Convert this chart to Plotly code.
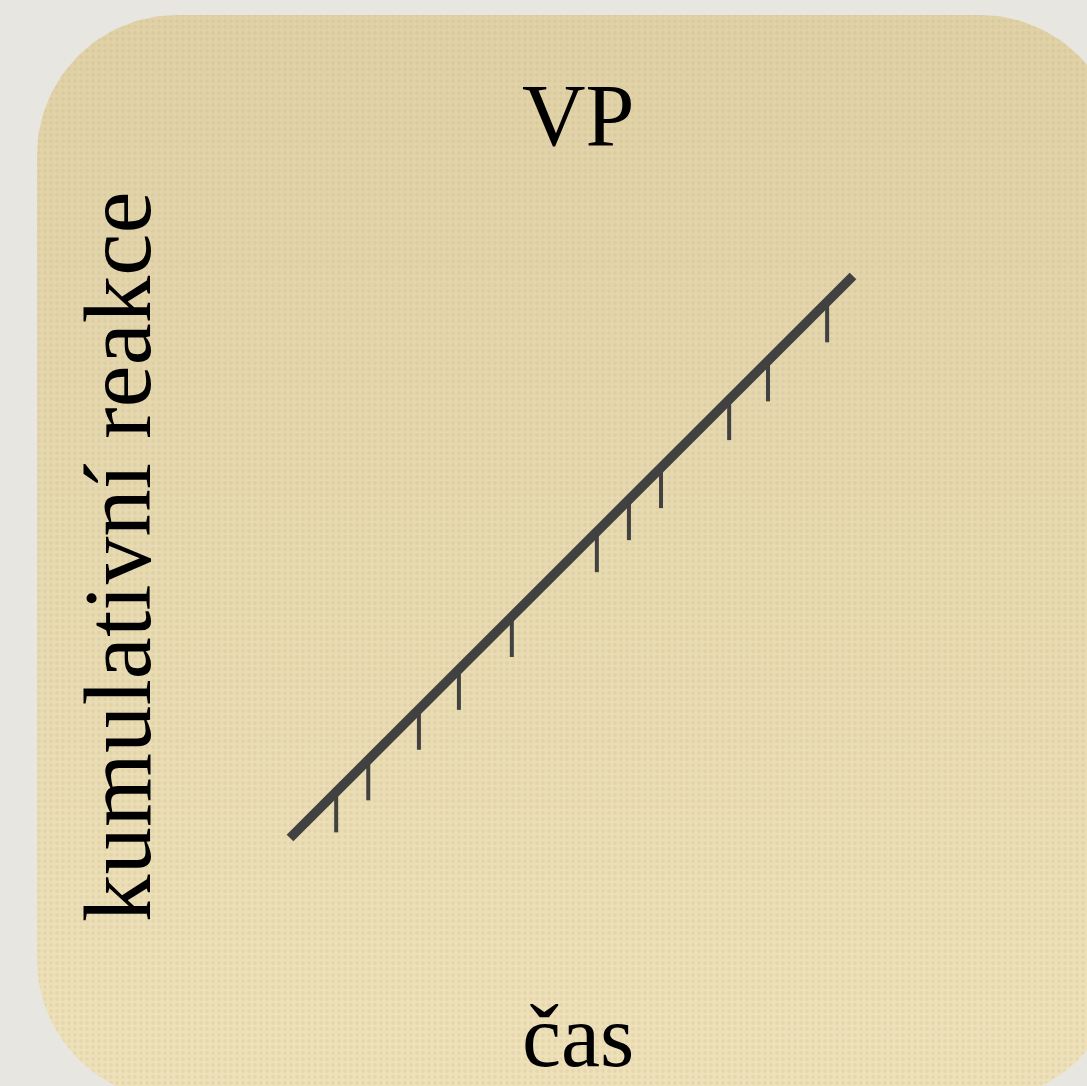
import numpy as np
import plotly.graph_objects as go

# ---- data ----
time_points = [0, 100]
cumulative_responses = [0, 100]
reinforcement_times = [8.2, 13.9, 22.9, 30.0, 39.4, 54.5, 60.2, 65.9, 78.0, 84.9, 95.4]
reinforcement_counts = [8.2, 13.9, 22.9, 30.0, 39.4, 54.5, 60.2, 65.9, 78.0, 84.9, 95.4]
title_text = "VP"
x_label = "čas"
y_label = "kumulativní reakce"

W, H = 1087, 1086
FONT = "Palatino Linotype, Palatino, Book Antiqua, Liberation Serif, serif"
INK = "#414141"
MARK_LEN = 7.2

# ---- decorative rounded panel (pixel-space base axes) ----
def rounded_rect(x0, y0, x1, y1, r, n=40):
    pts = []
    for cx, cy, a0 in [(x1 - r, y0 + r, -90), (x1 - r, y1 - r, 0), (x0 + r, y1 - r, 90), (x0 + r, y0 + r, 180)]:
        a = np.radians(np.linspace(a0, a0 + 90, n))
        pts += list(zip(cx + r * np.cos(a), cy + r * np.sin(a)))
    pts.append(pts[0])
    xs, ys = zip(*pts)
    return list(xs), list(ys)

px_, py_ = rounded_rect(37, 15, 1120, 1100, 140)

fig = go.Figure()
fig.add_trace(go.Scatter(
    x=px_, y=py_, mode="lines", fill="toself", line=dict(width=0, color="rgba(0,0,0,0)"),
    fillgradient=dict(type="vertical", colorscale=[[0, "#efe2ba"], [1, "#e0d1a7"]]),
    hoverinfo="skip", showlegend=False, xaxis="x", yaxis="y",
))
fig.add_trace(go.Scatter(
    x=px_, y=py_, mode="lines", fill="toself", line=dict(width=0, color="rgba(0,0,0,0)"),
    fillcolor="rgba(0,0,0,0)",
    fillpattern=dict(shape=".", size=6, solidity=0.35, fgcolor="rgba(190,170,120,0.35)",
                     bgcolor="rgba(0,0,0,0)", fillmode="overlay"),
    hoverinfo="skip", showlegend=False, xaxis="x", yaxis="y",
))

# ---- reinforcement marks ----
mx, my = [], []
for t, c in zip(reinforcement_times, reinforcement_counts):
    mx += [t, t, None]
    my += [c, c - MARK_LEN, None]
fig.add_trace(go.Scatter(x=mx, y=my, mode="lines", line=dict(color=INK, width=4),
                         hoverinfo="skip", showlegend=False, xaxis="x2", yaxis="y2"))

# ---- cumulative record ----
fig.add_trace(go.Scatter(x=time_points, y=cumulative_responses, mode="lines",
                         line=dict(color=INK, width=9.5),
                         hoverinfo="skip", showlegend=False, xaxis="x2", yaxis="y2"))

hidden = dict(visible=False, showgrid=False, zeroline=False, fixedrange=True)
fig.update_layout(
    width=W, height=H,
    margin=dict(l=0, r=0, t=0, b=0),
    paper_bgcolor="#e8e6e1",
    plot_bgcolor="rgba(0,0,0,0)",
    xaxis=dict(range=[0, W], domain=[0, 1], **hidden),
    yaxis=dict(range=[H, 0], domain=[0, 1], **hidden),
    xaxis2=dict(range=[-51.51, 141.56], overlaying="x", **hidden),
    yaxis2=dict(range=[-44.13, 149.11], overlaying="y", **hidden),
    showlegend=False,
    hovermode=False,
    annotations=[
        dict(text=title_text, xref="paper", yref="paper", x=578 / W, y=1 - 116 / H,
             xanchor="center", yanchor="middle", showarrow=False,
             font=dict(family=FONT, size=88, color="#000000")),
        dict(text=y_label, xref="paper", yref="paper", x=118 / W, y=1 - 557 / H,
             xanchor="center", yanchor="middle", textangle=-90, showarrow=False,
             font=dict(family=FONT, size=95, color="#000000")),
        dict(text=x_label, xref="paper", yref="paper", x=578 / W, y=1 - 1036 / H,
             xanchor="center", yanchor="middle", showarrow=False,
             font=dict(family=FONT, size=88, color="#000000")),
    ],
)

fig.write_html("out.html", config={"displayModeBar": False, "staticPlot": True},
               post_script="document.body.style.margin='0';document.body.style.background='#e8e6e1';")
